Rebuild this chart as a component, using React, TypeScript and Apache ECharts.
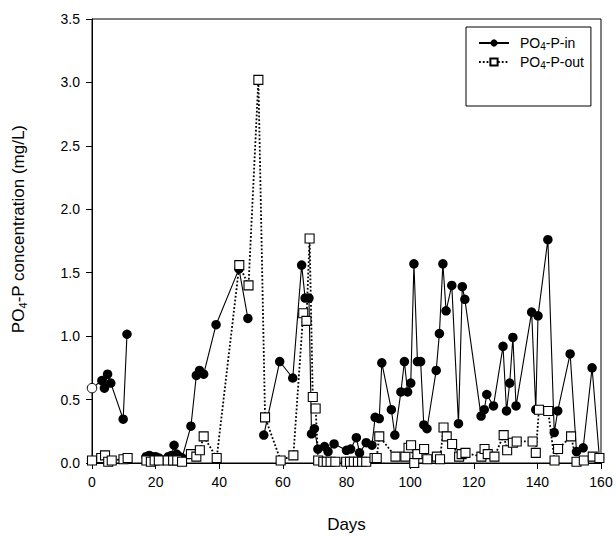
import React, { useEffect, useRef } from "react";
import * as echarts from "echarts";

// PO4-P-in (filled circles, solid line); null = gap in the line
const daysIn = [
  0, 3.1, 3.9, 4.9, 5.9, 9.8, 11, 14, 17, 18, 19, 20, 21, 24, 25, 25.8, 26.6, 27.5, 28.3,
  31.1, 32.8, 33.8, 35.1, 39, 46.2, 49, 52, 54, 59, 63.1, 65.9, 67, 68.2, 69, 69.9, 71,
  73.1, 74.2, 76.1, 80, 81.3, 83.1, 84.1, 86.2, 88, 89, 90.3, 91.1, 94.1, 95.2, 97.1, 98.2,
  99.2, 100.2, 101.2, 102.3, 103.3, 104.3, 105.3, 108.2, 109.2, 110.3, 111.3, 113.1, 115.2,
  116.4, 117.2, 122.3, 123.3, 124.1, 126.2, 129.2, 130.3, 131.3, 132.3, 133.3, 138.2, 139.5,
  140.2, 143.3, 145.3, 146.4, 150.3, 152.3, 154.4, 157.2, 159.5,
];
const po4In: (number | null)[] = [
  0.59, 0.65, 0.59, 0.7, 0.63, 0.345, 1.015, null, 0.05, 0.06, 0.05, 0.05, 0.04, 0.05, 0.06, 0.14, 0.07, 0.05, 0.04,
  0.29, 0.69, 0.73, 0.7, 1.09, 1.53, 1.14, null, 0.22, 0.8, 0.67, 1.56, 1.3, 1.3, 0.23, 0.27, 0.11,
  0.13, 0.09, 0.15, 0.1, 0.11, 0.2, 0.08, 0.16, 0.14, 0.36, 0.35, 0.79, 0.42, 0.22, 0.56, 0.8,
  0.56, 0.63, 1.57, 0.8, 0.8, 0.3, 0.27, 0.73, 1.02, 1.57, 1.2, 1.4, 0.31,
  1.39, 1.29, 0.37, 0.42, 0.54, 0.45, 0.92, 0.41, 0.63, 0.99, 0.45, 1.19, 0.42,
  1.16, 1.76, 0.24, 0.41, 0.86, 0.09, 0.12, 0.75, 0.04,
];

// PO4-P-out (open squares, dotted line)
const daysOut = [
  0, 2.9, 4.1, 5.1, 6.2, 9.9, 11.2, 14, 17.1, 18.5, 19.7, 21, 23.8, 25.5, 26.8, 28.3, 31.1, 32.8,
  33.9, 35.1, 39.2, 46.3, 49.2, 52.3, 54.4, 59.3, 63.3, 66.4, 67.4, 68.4, 69.4, 70.3, 71.1,
  72.7, 73.8, 75, 76.5, 79.9, 81.1, 82.3, 83.6, 84.9, 86.2, 88.8, 89.5, 90.3, 95.4, 98.5, 99.5,
  100.3, 101.3, 102.3, 104.4, 105.4, 108.4, 109.4, 110.5, 111.5, 113.2, 115.4, 116.2, 117.4,
  122.4, 123.4, 124.4, 126.5, 129.4, 130.5, 132.3, 133.5, 138.5, 139.5, 140.5, 143.4, 145.4,
  146.5, 150.6, 152.3, 154.6, 157.4, 159.5,
];
const po4Out: (number | null)[] = [
  0.02, 0.04, 0.06, 0.01, 0.02, 0.03, 0.04, null, 0.02, 0.01, 0.02, 0.02, 0.02, 0.02, 0.02, 0.01, 0.07, 0.05,
  0.1, 0.21, 0.04, 1.56, 1.4, 3.02, 0.36, 0.02, 0.06, 1.18, 1.12, 1.77, 0.52, 0.43, 0.02,
  0.01, 0.01, 0.01, 0.01, 0.01, 0.01, 0.01, 0.01, 0.01, 0.01, 0.04, 0.04, 0.21, 0.05, 0.05, 0.12,
  0.14, 0.0, 0.07, 0.11, 0.03, 0.05, 0.03, 0.28, 0.21, 0.15, 0.05, 0.07, 0.08,
  0.05, 0.11, 0.07, 0.05, 0.22, 0.1, 0.16, 0.17, 0.17, 0.08, 0.42, 0.41, 0.02,
  0.11, 0.21, 0.01, 0.02, 0.05, 0.04,
];

const xTicks = { min: 0, max: 160, interval: 20 };
const yTicks = { min: 0, max: 3.5, interval: 0.5 };

const FONT = "'Liberation Sans', Arial, Helvetica, sans-serif";

export default function App() {
  const ref = useRef<HTMLDivElement>(null);

  useEffect(() => {
    if (!ref.current) return;
    const chart = echarts.init(ref.current, null, { renderer: "svg" });

    const inData = daysIn.map((d, i) => {
      const v = po4In[i];
      if (v === null) return [d, "-"];
      if (i === 0)
        return { value: [d, v], itemStyle: { color: "#fff", borderColor: "#000", borderWidth: 1 } };
      return [d, v];
    });
    const outData = daysOut.map((d, i) => {
      const v = po4Out[i];
      return v === null ? [d, "-"] : [d, v];
    });

    const subRich = (size: number, lh: number, subSize: number, subLh: number) => ({
      fontSize: size,
      lineHeight: lh,
      rich: {
        sub: { fontSize: subSize, lineHeight: subLh, verticalAlign: "bottom", fontFamily: FONT, color: "#000" },
      },
    });

    chart.setOption({
      animation: false,
      textStyle: { fontFamily: FONT, color: "#000" },
      grid: {
        left: 80,
        right: 15,
        top: 19,
        bottom: 72,
        show: true,
        borderColor: "#000",
        borderWidth: 1,
        backgroundColor: "transparent",
      },
      legend: {
        orient: "vertical",
        left: 466,
        top: 27,
        borderColor: "#000",
        borderWidth: 1,
        padding: [8, 7, 36, 12],
        itemWidth: 30,
        itemHeight: 9,
        itemGap: 3,
        formatter: (name: string) => name.replace("4", "{sub|4}"),
        textStyle: {
          ...subRich(14, 16, 10, 10),
          fontFamily: FONT,
          color: "#000",
          padding: [0, 0, 0, 6],
        },
        data: ["PO4-P-in", "PO4-P-out"],
      },
      xAxis: {
        type: "value",
        min: xTicks.min,
        max: xTicks.max,
        interval: xTicks.interval,
        name: "Days",
        nameLocation: "middle",
        nameGap: 53,
        nameTextStyle: { fontSize: 17, fontFamily: FONT, color: "#000" },
        axisLine: { show: true, onZero: false, lineStyle: { color: "#000", width: 1 } },
        axisTick: { show: true, inside: false, length: 6, lineStyle: { color: "#000" } },
        axisLabel: { color: "#000", fontSize: 14, margin: 12, fontFamily: FONT },
        splitLine: { show: false },
      },
      yAxis: {
        type: "value",
        min: yTicks.min,
        max: yTicks.max,
        interval: yTicks.interval,
        name: "PO{sub|4}-P concentration (mg/L)",
        nameLocation: "middle",
        nameGap: 64,
        nameTextStyle: {
          ...subRich(17, 20, 11, 12),
          fontFamily: FONT,
          color: "#000",
          padding: [0, 0, 0, 24],
        },
        axisLine: { show: true, onZero: false, lineStyle: { color: "#000", width: 1 } },
        axisTick: { show: true, inside: false, length: 6, lineStyle: { color: "#000" } },
        axisLabel: {
          color: "#000",
          fontSize: 14,
          margin: 12,
          fontFamily: FONT,
          formatter: (v: number) => v.toFixed(1),
        },
        splitLine: { show: false },
      },
      series: [
        {
          name: "PO4-P-in",
          type: "line",
          data: inData,
          connectNulls: false,
          symbol: "circle",
          symbolSize: 9.5,
          showAllSymbol: true,
          itemStyle: { color: "#000", borderColor: "#000", borderWidth: 0 },
          lineStyle: { color: "#000", width: 1.1 },
          z: 2,
        },
        {
          name: "PO4-P-out",
          type: "line",
          data: outData,
          connectNulls: false,
          symbol: "rect",
          symbolSize: 9,
          showAllSymbol: true,
          itemStyle: { color: "#fff", borderColor: "#000", borderWidth: 1.1 },
          lineStyle: { color: "#000", width: 1.8, type: [1.8, 2] },
          z: 3,
        },
      ],
    });

    return () => chart.dispose();
  }, []);

  return (
    <div
      ref={ref}
      style={{ position: "fixed", left: 0, top: 0, width: 616, height: 538, background: "#fff" }}
    />
  );
}
